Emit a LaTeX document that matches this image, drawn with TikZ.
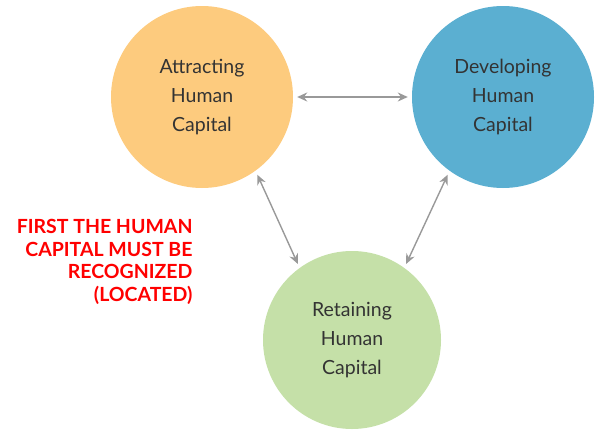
\documentclass[tikz,border=0pt]{standalone}
\usepackage{fontspec}
\setmainfont{Lato}
\usetikzlibrary{arrows.meta}
\definecolor{corange}{HTML}{FDCB7E}
\definecolor{cblue}{HTML}{5BAFD1}
\definecolor{cgreen}{HTML}{C5E0A8}
\definecolor{cred}{HTML}{FF0000}
\begin{document}
\begin{tikzpicture}[x=1pt,y=-1pt,
  blob/.style={circle,minimum size=182pt,inner sep=0pt,align=center,font=\fontsize{19.5}{29}\selectfont,text=black!80},
  link/.style={draw=gray!80,line width=1.4pt,{Stealth[length=10pt,width=9pt]}-{Stealth[length=10pt,width=9pt]}}]
\useasboundingbox (0,0) rectangle (601,431);
\node[blob,fill=corange] (a) at (202,97) {Attracting\\Human\\Capital};
\node[blob,fill=cblue] (d) at (503,97) {Developing\\Human\\Capital};
\node[blob,fill=cgreen,minimum size=178pt] (r) at (352,340) {Retaining\\Human\\Capital};
\path (a.east) ++(4,0) coordinate (a1) (d.west) ++(-4,0) coordinate (d1);
\draw[link] (a1) -- (d1);
\draw[link] ([shift={(3,3)}]a.-55) -- ([shift={(-3,-3)}]r.125);
\draw[link] ([shift={(-3,3)}]d.-125) -- ([shift={(3,-3)}]r.55);
\node[align=right,anchor=east,text=cred,font=\fontsize{19.5}{22.5}\selectfont\bfseries] (t) at (196,262) {FIRST THE HUMAN\\CAPITAL MUST BE\\RECOGNIZED\\(LOCATED)};
\end{tikzpicture}
\end{document}
